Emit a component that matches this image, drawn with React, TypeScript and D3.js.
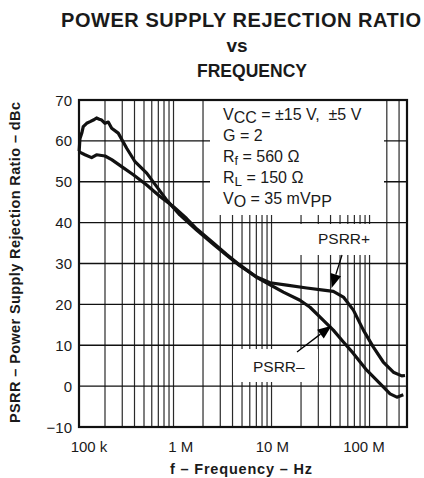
import React from 'react';
import * as d3 from 'd3';

// PSRR+ (upper trace)
const freqPlus = [1.09e5, 1.11e5, 1.16e5, 1.2e5, 1.3e5, 1.41e5, 1.52e5, 1.64e5, 1.75e5, 1.85e5, 2.0e5, 2.16e5, 2.34e5, 2.73e5, 3.33e5, 4.05e5, 5.33e5, 6.74e5, 8.53e5, 1.16e6, 1.72e6, 2.55e6, 3.49e6, 4.77e6, 7.06e6, 9.66e6, 1.43e7, 2.29e7, 3.38e7, 4.27e7, 5.41e7, 6.84e7, 8.65e7, 1.09e8, 1.38e8, 1.75e8, 2.13e8, 2.3e8];
const psrrPlus = [57.5, 60.5, 61.9, 63.5, 64.3, 64.7, 65.1, 65.6, 65.3, 65.1, 64.3, 64.6, 63.1, 61.9, 58.2, 54.9, 52.1, 48.8, 45.5, 41.9, 38.2, 34.7, 32.0, 29.4, 26.7, 25.3, 24.7, 24.0, 23.5, 23.2, 21.8, 18.6, 13.7, 9.6, 5.9, 3.4, 2.5, 2.6];

// PSRR- (lower trace)
const freqMinus = [1.09e5, 1.25e5, 1.46e5, 1.64e5, 2.0e5, 2.34e5, 2.96e5, 3.89e5, 5.33e5, 7.28e5, 1.0e6, 1.36e6, 1.72e6, 2.55e6, 3.49e6, 4.77e6, 7.06e6, 9.66e6, 1.32e7, 1.95e7, 2.47e7, 3.38e7, 4.27e7, 5.41e7, 6.84e7, 9.36e7, 1.28e8, 1.62e8, 1.9e8, 2.21e8];
const psrrMinus = [57.3, 56.6, 55.9, 56.6, 56.3, 55.4, 53.7, 51.7, 49.2, 46.4, 43.9, 41.0, 38.5, 35.0, 32.2, 29.6, 26.6, 24.8, 23.0, 21.0, 19.3, 16.1, 13.7, 10.8, 8.0, 3.9, 0.6, -1.9, -2.7, -2.1];

const yTicks = [70, 60, 50, 40, 30, 20, 10, 0, -10];
const yTickLabels = ['70', '60', '50', '40', '30', '20', '10', '0', '\u221210'];
const xTickValues = [1e5, 1e6, 1e7, 1e8];
const xTickLabels = ['100 k', '1 M', '10 M', '100 M'];
const gridFreqs = [2e5, 3e5, 4e5, 5e5, 6e5, 7e5, 8e5, 9e5, 1e6, 2e6, 3e6, 4e6, 5e6, 6e6, 7e6, 8e6, 9e6, 1e7, 2e7, 3e7, 4e7, 5e7, 6e7, 7e7, 8e7, 9e7, 1e8, 1.5e8, 2e8];

// Arrow annotations: tip in data coords
const arrowPlusTip = [4.1e7, 24.0];
const arrowMinusTip = [4.1e7, 14.8];

const FONT = '"Liberation Sans", Arial, Helvetica, sans-serif';

export default function App() {
  const L = 79, R = 407, T = 100, B = 427;
  const x = d3.scaleLog().domain([1.086e5, 2.41e8]).range([L, R]);
  const y = d3.scaleLinear().domain([-10, 70]).range([B, T]);
  const xLabel = d3.scaleLog().domain([1e5, 1e8]).range([89, 364]);

  const line = d3.line<[number, number]>().x(d => x(d[0])).y(d => y(d[1]));
  const plusPts = freqPlus.map((f, i) => [f, psrrPlus[i]] as [number, number]);
  const minusPts = freqMinus.map((f, i) => [f, psrrMinus[i]] as [number, number]);

  const arrow = (tail: [number, number], tipData: number[]) => {
    const tx = x(tipData[0]), ty = y(tipData[1]);
    const dx = tx - tail[0], dy = ty - tail[1];
    const len = Math.hypot(dx, dy);
    const ux = dx / len, uy = dy / len;
    const hl = 14, hw = 5.5;
    const bx = tx - ux * hl, by = ty - uy * hl;
    const pts = [[tx, ty], [bx - uy * hw, by + ux * hw], [bx + uy * hw, by - ux * hw]];
    return (
      <g>
        <line x1={tail[0]} y1={tail[1]} x2={bx} y2={by} stroke="#000" strokeWidth={1.3} />
        <polygon points={pts.map(p => p.join(',')).join(' ')} fill="#000" />
      </g>
    );
  };

  return (
    <svg width={424} height={478} style={{ position: 'absolute', left: 0, top: 0, background: '#fff' }} fontFamily={FONT}>
      <rect x={0} y={0} width={424} height={478} fill="#fff" />
      {/* Title */}
      <g fontWeight="bold" fill="#1a1a1a" textAnchor="middle">
        <text x={241} y={26.5} fontSize={20} textLength={360} lengthAdjust="spacing">POWER SUPPLY REJECTION RATIO</text>
        <text x={237} y={51.5} fontSize={19}>vs</text>
        <text x={252} y={76.5} fontSize={18} textLength={110} lengthAdjust="spacingAndGlyphs">FREQUENCY</text>
      </g>

      {/* Grid */}
      <g stroke="#2a2a2a" strokeWidth={1.2}>
        {gridFreqs.map(f => (
          <line key={'v' + f} x1={x(f)} x2={x(f)} y1={T} y2={B} />
        ))}
        {yTicks.map(v => (
          <line key={'h' + v} x1={L} x2={R} y1={y(v)} y2={y(v)} stroke="#111" strokeWidth={1.3} />
        ))}
      </g>

      {/* white label boxes */}
      <rect x={210} y={101} width={174} height={114} fill="#fff" />
      <rect x={300} y={224} width={83} height={31} fill="#fff" />
      <rect x={233} y={349} width={85} height={33} fill="#fff" />

      {/* Curves */}
      <path d={line(minusPts) || ''} fill="none" stroke="#111" strokeWidth={3.2} strokeLinejoin="round" />
      <path d={line(plusPts) || ''} fill="none" stroke="#111" strokeWidth={3.2} strokeLinejoin="round" />

      {/* Frame */}
      <rect x={L} y={T} width={R - L} height={B - T} fill="none" stroke="#111" strokeWidth={2.2} />

      {/* Y tick labels */}
      <g fontSize={15} fill="#1a1a1a" textAnchor="end">
        {yTicks.map((v, i) => (
          <text key={'yl' + v} x={72} y={y(v) + 5.5}>{yTickLabels[i]}</text>
        ))}
      </g>

      {/* X tick labels */}
      <g fontSize={15} fill="#1a1a1a" textAnchor="middle">
        {xTickValues.map((v, i) => (
          <text key={'xl' + v} x={xLabel(v)} y={452}>{xTickLabels[i]}</text>
        ))}
      </g>

      {/* Axis titles */}
      <text x={241} y={474} fontSize={14.5} fontWeight="bold" textAnchor="middle" fill="#1a1a1a" textLength={142} lengthAdjust="spacing">f – Frequency – Hz</text>
      <text transform="translate(20,262.5) rotate(-90)" fontSize={14.5} fontWeight="bold" textAnchor="middle" fill="#1a1a1a" textLength={321} lengthAdjust="spacing">PSRR – Power Supply Rejection Ratio – dBc</text>

      {/* Conditions */}
      <g fontSize={16} fill="#1a1a1a">
        <text x={223} y={119.5}>V<tspan dy={3}>CC</tspan><tspan dy={-3}>{' = ±15 V,\u00a0 ±5 V'}</tspan></text>
        <text x={223} y={140.5}>G = 2</text>
        <text x={223} y={162}>R<tspan dy={3} fontSize={12.5}>f</tspan><tspan dy={-3}>{' = 560 Ω'}</tspan></text>
        <text x={223} y={183}>R<tspan dy={3} fontSize={13.5}>L</tspan><tspan dy={-3}>{' = 150 Ω'}</tspan></text>
        <text x={223} y={203.5}>V<tspan dy={3}>O</tspan><tspan dy={-3}>{' = 35 mV'}</tspan><tspan dy={3}>PP</tspan></text>
      </g>

      {/* Curve labels */}
      <g fontSize={15.5} fill="#1a1a1a">
        <text x={318} y={243.5}>PSRR+</text>
        <text x={253} y={372}>PSRR–</text>
      </g>
      {arrow([342, 255], arrowPlusTip)}
      {arrow([297, 352], arrowMinusTip)}
    </svg>
  );
}
